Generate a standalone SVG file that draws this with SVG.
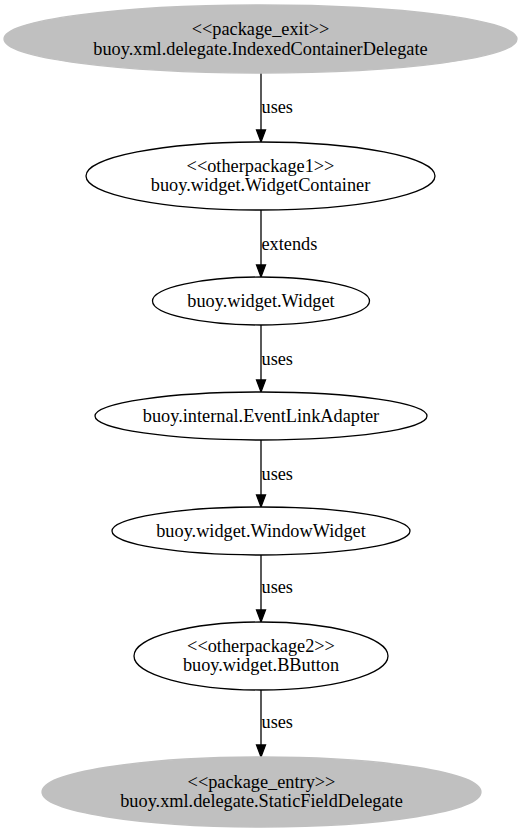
<svg xmlns="http://www.w3.org/2000/svg" width="523" height="832" viewBox="0 0 523 832">
<defs>
<style>
.n{fill:#ffffff;stroke:#000000;stroke-width:1.3}
.g{fill:#c0c0c0;stroke:#c0c0c0;stroke-width:1.3}
text{font-family:"Liberation Serif","Times New Roman",serif;font-size:18.3px;fill:#000000}
.c{text-anchor:middle}
.e{stroke:#000000;stroke-width:1.3;fill:none}
.a{fill:#000000;stroke:#000000;stroke-width:1.3}
</style>
</defs>
<rect width="523" height="832" fill="#ffffff"/>
<g id="connectors">
<line class="e" x1="261" y1="73" x2="261" y2="130"/>
<polygon class="a" points="256.5,130 265.5,130 261,142"/>
<text x="261.5" y="113">uses</text>
<line class="e" x1="261" y1="210" x2="261" y2="265"/>
<polygon class="a" points="256.5,265 265.5,265 261,277"/>
<text x="261.5" y="250">extends</text>
<line class="e" x1="261" y1="325" x2="261" y2="380"/>
<polygon class="a" points="256.5,380 265.5,380 261,392"/>
<text x="261.5" y="365">uses</text>
<line class="e" x1="261" y1="440" x2="261" y2="495"/>
<polygon class="a" points="256.5,495 265.5,495 261,507"/>
<text x="261.5" y="480">uses</text>
<line class="e" x1="261" y1="555" x2="261" y2="610"/>
<polygon class="a" points="256.5,610 265.5,610 261,622"/>
<text x="261.5" y="593">uses</text>
<line class="e" x1="261" y1="690" x2="261" y2="745"/>
<polygon class="a" points="256.5,745 265.5,745 261,757"/>
<text x="261.5" y="728">uses</text>
</g>
<g id="node1">
<ellipse class="g" cx="260.5" cy="39" rx="256.5" ry="34"/>
<text class="c" x="260.5" y="35">&lt;&lt;package_exit&gt;&gt;</text>
<text class="c" x="260.5" y="54.5">buoy.xml.delegate.IndexedContainerDelegate</text>
</g>
<g id="node2">
<ellipse class="n" cx="260.5" cy="176" rx="174.5" ry="34"/>
<text class="c" x="260.5" y="172">&lt;&lt;otherpackage1&gt;&gt;</text>
<text class="c" x="260.5" y="191">buoy.widget.WidgetContainer</text>
</g>
<g id="node3">
<ellipse class="n" cx="261" cy="301" rx="108.5" ry="24"/>
<text class="c" x="261" y="307">buoy.widget.Widget</text>
</g>
<g id="node4">
<ellipse class="n" cx="261" cy="416" rx="166" ry="24"/>
<text class="c" x="261" y="422">buoy.internal.EventLinkAdapter</text>
</g>
<g id="node5">
<ellipse class="n" cx="261" cy="531" rx="149" ry="24"/>
<text class="c" x="261" y="537">buoy.widget.WindowWidget</text>
</g>
<g id="node6">
<ellipse class="n" cx="261" cy="656" rx="127" ry="34"/>
<text class="c" x="261" y="652">&lt;&lt;otherpackage2&gt;&gt;</text>
<text class="c" x="261" y="671">buoy.widget.BButton</text>
</g>
<g id="node7">
<ellipse class="g" cx="261.5" cy="792" rx="219.5" ry="35"/>
<text class="c" x="261.5" y="788">&lt;&lt;package_entry&gt;&gt;</text>
<text class="c" x="261.5" y="807">buoy.xml.delegate.StaticFieldDelegate</text>
</g>
</svg>
